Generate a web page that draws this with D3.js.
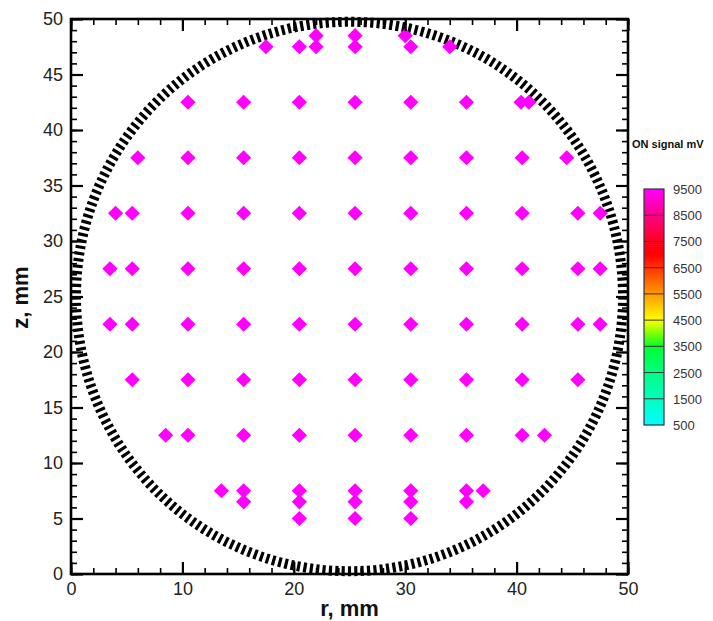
<!DOCTYPE html>
<html><head><meta charset="utf-8">
<script src="https://cdn.jsdelivr.net/npm/d3@7/dist/d3.min.js"></script>
<style>body{margin:0;background:#fff}svg{display:block}text{font-family:"Liberation Sans",Arial,sans-serif}</style>
</head><body>
<svg id="c" width="713" height="621"></svg>
<script>
// ---- data ----
const pointR = [
  22, 25.5, 30,                                        // z=48.5
  17.5, 20.5, 22, 25.5, 30.5, 34,                      // z=47.5
  10.5, 15.5, 20.5, 25.5, 30.5, 35.5, 40.4, 41.1,      // z=42.5
  6, 10.5, 15.5, 20.5, 25.5, 30.5, 35.5, 40.5, 44.5,   // z=37.5
  4, 5.5, 10.5, 15.5, 20.5, 25.5, 30.5, 35.5, 40.5, 45.5, 47.5, // z=32.5
  3.5, 5.5, 10.5, 15.5, 20.5, 25.5, 30.5, 35.5, 40.5, 45.5, 47.5, // z=27.5
  3.5, 5.5, 10.5, 15.5, 20.5, 25.5, 30.5, 35.5, 40.5, 45.5, 47.5, // z=22.5
  5.5, 10.5, 15.5, 20.5, 25.5, 30.5, 35.5, 40.5, 45.5, // z=17.5
  8.5, 10.5, 15.5, 20.5, 25.5, 30.5, 35.5, 40.5, 42.5, // z=12.5
  13.5, 15.5, 20.5, 25.5, 30.5, 35.5, 37,              // z=7.5
  15.5, 20.5, 25.5, 30.5, 35.5,                        // z=6.5
  20.5, 25.5, 30.5                                     // z=5
];
const pointZ = [
  48.5, 48.5, 48.5,
  47.5, 47.5, 47.5, 47.5, 47.5, 47.5,
  42.5, 42.5, 42.5, 42.5, 42.5, 42.5, 42.5, 42.5,
  37.5, 37.5, 37.5, 37.5, 37.5, 37.5, 37.5, 37.5, 37.5,
  32.5, 32.5, 32.5, 32.5, 32.5, 32.5, 32.5, 32.5, 32.5, 32.5, 32.5,
  27.5, 27.5, 27.5, 27.5, 27.5, 27.5, 27.5, 27.5, 27.5, 27.5, 27.5,
  22.5, 22.5, 22.5, 22.5, 22.5, 22.5, 22.5, 22.5, 22.5, 22.5, 22.5,
  17.5, 17.5, 17.5, 17.5, 17.5, 17.5, 17.5, 17.5, 17.5,
  12.5, 12.5, 12.5, 12.5, 12.5, 12.5, 12.5, 12.5, 12.5,
  7.5, 7.5, 7.5, 7.5, 7.5, 7.5, 7.5,
  6.5, 6.5, 6.5, 6.5, 6.5,
  5, 5, 5
];
const pointSignal = 9500; // all measured points saturate the colour scale
const rMajorTicks = [0, 10, 20, 30, 40, 50];
const zMajorTicks = [0, 5, 10, 15, 20, 25, 30, 35, 40, 45, 50];
const legendLevels = [500, 1500, 2500, 3500, 4500, 5500, 6500, 7500, 8500, 9500];
const legendStopValues = [500, 1500, 2500, 3500, 4000, 4500, 5500, 6500, 7000, 7500, 8500, 9500];
const legendStopColors = ["#00ffff", "#00ffc0", "#00ff80", "#00ff30", "#80ff00", "#ffff00", "#ff9900", "#ff3300", "#ff0000", "#ff0022", "#ff0088", "#ff00ff"];
const circleCenter = [25, 25];
const circleRadius = [24.55, 24.75];

// ---- chart ----
const svg = d3.select("#c");
const x = d3.scaleLinear().domain([0, 50]).range([71, 628]);
const y = d3.scaleLinear().domain([0, 50]).range([574, 19]);
const color = d3.scaleLinear().domain(legendStopValues).range(legendStopColors).clamp(true);

// dashed ring
svg.append("ellipse")
  .attr("cx", x(circleCenter[0])).attr("cy", y(circleCenter[1]))
  .attr("rx", x(circleRadius[0]) - x(0)).attr("ry", y(0) - y(circleRadius[1]))
  .attr("fill", "none").attr("stroke", "#000").attr("stroke-width", 10)
  .attr("stroke-dasharray", "3.2,3.2");

// points
const d = 7.6;
svg.append("g").selectAll("path").data(pointR.map((r, i) => [r, pointZ[i]])).join("path")
  .attr("d", p => `M${x(p[0])},${y(p[1]) - d}L${x(p[0]) + d},${y(p[1])}L${x(p[0])},${y(p[1]) + d}L${x(p[0]) - d},${y(p[1])}Z`)
  .attr("fill", color(pointSignal));

// axes
function styleAxis(g, major) {
  g.select(".domain").remove();
  g.selectAll(".tick line").attr("stroke", "#000").attr("stroke-width", major ? 2.2 : 1.6);
  g.selectAll(".tick text").attr("fill", "#222").style("font-size", "18px");
}
const minorR = d3.range(0, 51, 2), minorZ = d3.range(0, 51, 1);
svg.append("g").attr("transform", `translate(0,${y(0)})`)
  .call(d3.axisBottom(x).tickValues(rMajorTicks).tickSize(-12).tickPadding(8).tickFormat(d3.format("d")))
  .call(g => styleAxis(g, true));
svg.append("g").attr("transform", `translate(0,${y(0)})`)
  .call(d3.axisBottom(x).tickValues(minorR).tickSize(-6).tickFormat(""))
  .call(g => styleAxis(g, false));
svg.append("g").attr("transform", `translate(0,${y(50)})`)
  .call(d3.axisTop(x).tickValues(rMajorTicks).tickSize(-12).tickFormat(""))
  .call(g => styleAxis(g, true));
svg.append("g").attr("transform", `translate(0,${y(50)})`)
  .call(d3.axisTop(x).tickValues(minorR).tickSize(-6).tickFormat(""))
  .call(g => styleAxis(g, false));
svg.append("g").attr("transform", `translate(${x(0)},0)`)
  .call(d3.axisLeft(y).tickValues(zMajorTicks).tickSize(-12).tickPadding(8).tickFormat(d3.format("d")))
  .call(g => styleAxis(g, true));
svg.append("g").attr("transform", `translate(${x(0)},0)`)
  .call(d3.axisLeft(y).tickValues(minorZ).tickSize(-6).tickFormat(""))
  .call(g => styleAxis(g, false));
svg.append("g").attr("transform", `translate(${x(50)},0)`)
  .call(d3.axisRight(y).tickValues(zMajorTicks).tickSize(-12).tickFormat(""))
  .call(g => styleAxis(g, true));
svg.append("g").attr("transform", `translate(${x(50)},0)`)
  .call(d3.axisRight(y).tickValues(minorZ).tickSize(-6).tickFormat(""))
  .call(g => styleAxis(g, false));

// frame
svg.append("rect").attr("x", x(0)).attr("y", y(50)).attr("width", x(50) - x(0)).attr("height", y(0) - y(50))
  .attr("fill", "none").attr("stroke", "#000").attr("stroke-width", 2.6);

// axis titles
svg.append("text").attr("x", (x(0) + x(50)) / 2).attr("y", 616).attr("text-anchor", "middle")
  .style("font-size", "22px").style("font-weight", "bold").attr("fill", "#111").text("r, mm");
svg.append("text").attr("transform", `translate(28,${y(25) + 1}) rotate(-90)`).attr("text-anchor", "middle")
  .style("font-size", "22px").style("font-weight", "bold").attr("fill", "#111").text("z, mm");

// colour legend
const ly = d3.scaleLinear().domain([500, 9500]).range([425, 189]);
const lx0 = 644, lw = 20;
const defs = svg.append("defs");
const grad = defs.append("linearGradient").attr("id", "lg").attr("x1", 0).attr("x2", 0).attr("y1", 1).attr("y2", 0);
legendStopValues.forEach((v, i) => grad.append("stop").attr("offset", (v - 500) / 9000).attr("stop-color", legendStopColors[i]));
svg.append("rect").attr("x", lx0).attr("y", ly(9500)).attr("width", lw).attr("height", ly(500) - ly(9500))
  .attr("fill", "url(#lg)").attr("stroke", "#334").attr("stroke-width", 1.2);
svg.append("g").selectAll("line").data(legendLevels.slice(1, -1)).join("line")
  .attr("x1", lx0).attr("x2", lx0 + lw).attr("y1", v => ly(v)).attr("y2", v => ly(v))
  .attr("stroke", "#333").attr("stroke-width", 1);
svg.append("g").selectAll("text").data(legendLevels).join("text")
  .attr("x", 673).attr("y", v => ly(v) + 5).style("font-size", "13px").attr("fill", "#333").text(v => v);
svg.append("text").attr("x", 632).attr("y", 148).style("font-size", "11px").style("font-weight", "bold")
  .attr("fill", "#111").text("ON signal mV");
</script>
</body></html>
